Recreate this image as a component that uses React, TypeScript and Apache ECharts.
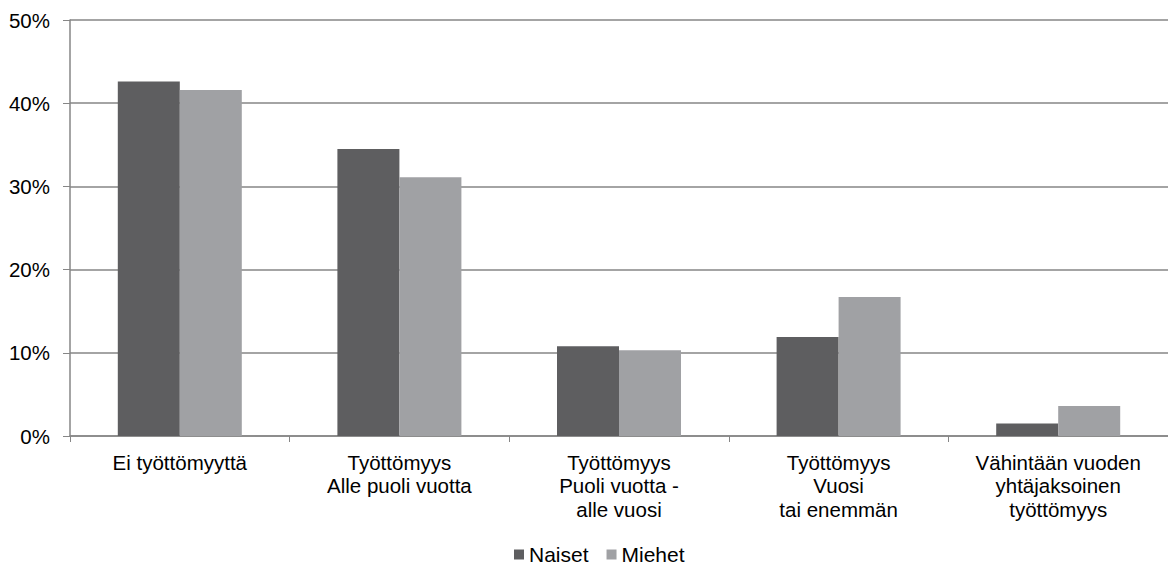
import React, { useEffect, useRef } from "react";
import * as echarts from "echarts";

const categories = [
  "Ei työttömyyttä",
  "Työttömyys\nAlle puoli vuotta",
  "Työttömyys\nPuoli vuotta -\nalle vuosi",
  "Työttömyys\nVuosi\ntai enemmän",
  "Vähintään vuoden\nyhtäjaksoinen\ntyöttömyys",
];
const naiset = [42.6, 34.5, 10.8, 11.9, 1.5];
const miehet = [41.6, 31.1, 10.3, 16.7, 3.6];
const seriesNames = ["Naiset", "Miehet"];

const FONT = "'Liberation Sans', Arial, sans-serif";

export default function App() {
  const ref = useRef<HTMLDivElement>(null);
  useEffect(() => {
    if (!ref.current) return;
    const chart = echarts.init(ref.current, null, { renderer: "svg" });
    chart.setOption({
      animation: false,
      backgroundColor: "#ffffff",
      textStyle: { fontFamily: FONT },
      grid: { left: 70, top: 20, width: 1101, height: 416 },
      legend: {
        data: seriesNames,
        left: 514,
        top: 544,
        padding: 0,
        itemWidth: 10,
        itemHeight: 10,
        itemGap: 18,
        icon: "rect",
        textStyle: { fontSize: 21, lineHeight: 21, color: "#000", fontFamily: FONT },
      },
      xAxis: {
        type: "category",
        data: categories,
        axisLine: { show: true, lineStyle: { color: "#868686", width: 1.5 } },
        axisTick: { show: true, length: 6, lineStyle: { color: "#868686", width: 1 } },
        axisLabel: {
          margin: 15,
          fontSize: 20.5,
          lineHeight: 23.3,
          color: "#000",
          fontFamily: FONT,
          interval: 0,
          align: "center",
        },
      },
      yAxis: {
        type: "value",
        min: 0,
        max: 50,
        interval: 10,
        axisLine: { show: true, lineStyle: { color: "#868686", width: 1.5 } },
        axisTick: { show: true, length: 7, lineStyle: { color: "#868686", width: 1 } },
        axisLabel: {
          margin: 20,
          fontSize: 20.5,
          color: "#000",
          fontFamily: FONT,
          formatter: "{value}%",
        },
        splitLine: { show: true, lineStyle: { color: "#868686", width: 1.5 } },
      },
      series: [
        {
          name: seriesNames[0],
          type: "bar",
          data: naiset,
          barWidth: 62,
          barGap: "0%",
          itemStyle: { color: "#5e5e60" },
        },
        {
          name: seriesNames[1],
          type: "bar",
          data: miehet,
          barWidth: 62,
          barGap: "0%",
          itemStyle: { color: "#a0a1a4" },
        },
      ],
    });
    return () => chart.dispose();
  }, []);
  return (
    <div
      ref={ref}
      style={{ position: "absolute", left: 0, top: 0, width: 1168, height: 567 }}
    />
  );
}
